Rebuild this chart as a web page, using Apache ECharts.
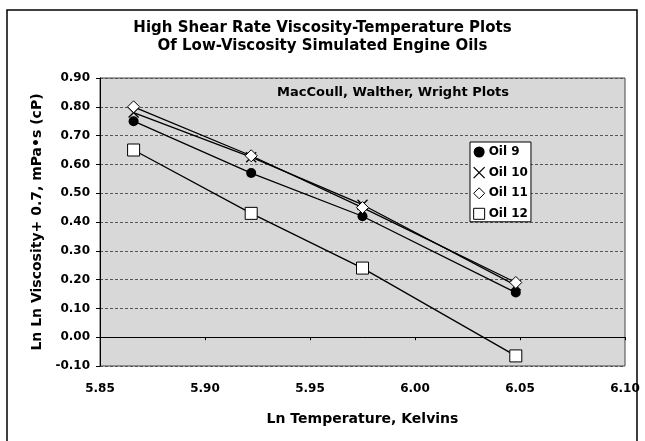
<!DOCTYPE html>
<html>
<head>
<meta charset="utf-8">
<script src="https://cdn.jsdelivr.net/npm/echarts@6/dist/echarts.min.js"></script>
<style>
  html, body { margin: 0; padding: 0; background: #fff; }
  #chart { width: 645px; height: 441px; }
</style>
</head>
<body>
<div id="chart"></div>
<script>
// Ln of temperature in Kelvin (80, 100, 120, 150 C)
const lnTemp = [5.866, 5.922, 5.975, 6.048];
const oil9 = [0.75, 0.57, 0.42, 0.155];
const oil10 = [0.78, 0.625, 0.46, 0.18];
const oil11 = [0.80, 0.63, 0.45, 0.19];
const oil12 = [0.65, 0.43, 0.24, -0.065];
const seriesNames = ['Oil 9', 'Oil 10', 'Oil 11', 'Oil 12'];

const crossPath = 'path://M0,0L10,10M10,0L0,10';

function pairs(ys) {
    return lnTemp.map(function (x, i) { return [x, ys[i]]; });
}

const chart = echarts.init(document.getElementById('chart'));

// wide bold face, closer to the scanned Arial widths
const baseFont = '"DejaVu Sans", sans-serif';

const option = {
    animation: false,
    backgroundColor: '#fff',
    title: {
        text: 'High Shear Rate Viscosity-Temperature Plots\nOf Low-Viscosity Simulated Engine Oils',
        left: 'center',
        top: 14,
        textStyle: {
            fontFamily: baseFont,
            fontWeight: 'bold',
            fontSize: 15,
            lineHeight: 18,
            color: '#000'
        }
    },
    grid: {
        left: 100,
        right: 20,
        top: 78,
        bottom: 75,
        show: true,
        backgroundColor: '#d8d8d8',
        borderColor: '#444',
        borderWidth: 1
    },
    legend: {
        orient: 'vertical',
        left: 470,
        top: 142,
        padding: [4, 3, 2, 3],
        itemGap: 8.5,
        itemWidth: 11,
        itemHeight: 11,
        backgroundColor: '#fff',
        borderColor: '#000',
        borderWidth: 1,
        borderRadius: 0,
        textStyle: {
            fontFamily: baseFont,
            fontWeight: 'bold',
            fontSize: 12,
            color: '#000',
            padding: [0, 0, 0, -1]
        },
        data: [
            { name: seriesNames[0], icon: 'circle', itemStyle: { color: '#000', borderWidth: 0 } },
            { name: seriesNames[1], icon: crossPath, itemStyle: { color: 'transparent', borderColor: '#000', borderWidth: 1.3 } },
            { name: seriesNames[2], icon: 'diamond', itemStyle: { color: '#fff', borderColor: '#000', borderWidth: 1 } },
            { name: seriesNames[3], icon: 'rect', itemStyle: { color: '#fff', borderColor: '#000', borderWidth: 1 } }
        ]
    },
    xAxis: {
        type: 'value',
        min: 5.85,
        max: 6.10,
        interval: 0.05,
        name: 'Ln Temperature, Kelvins',
        nameLocation: 'middle',
        nameGap: 46,
        nameTextStyle: {
            fontFamily: baseFont,
            fontWeight: 'bold',
            fontSize: 14,
            color: '#000'
        },
        axisLine: { show: true, lineStyle: { color: '#000', width: 1 } },
        axisTick: { show: true, inside: false, length: 3, lineStyle: { color: '#000' } },
        axisLabel: {
            margin: 17,
            fontFamily: baseFont,
            fontWeight: 'bold',
            fontSize: 12,
            color: '#000',
            formatter: function (v) { return v.toFixed(2); }
        },
        splitLine: { show: false }
    },
    yAxis: {
        type: 'value',
        min: -0.1,
        max: 0.9,
        interval: 0.1,
        name: 'Ln Ln Viscosity+ 0.7, mPa•s (cP)',
        nameLocation: 'middle',
        nameGap: 56,
        nameTextStyle: {
            fontFamily: baseFont,
            fontWeight: 'bold',
            fontSize: 14,
            color: '#000'
        },
        axisLine: { show: true, lineStyle: { color: '#000', width: 1 } },
        axisTick: { show: true, inside: false, length: 4, lineStyle: { color: '#000' } },
        axisLabel: {
            margin: 10,
            fontFamily: baseFont,
            fontWeight: 'bold',
            fontSize: 12,
            color: '#000',
            formatter: function (v) { return v.toFixed(2); }
        },
        splitLine: {
            show: true,
            lineStyle: { color: '#555', width: 1, type: [3, 2] }
        }
    },
    graphic: [
        {
            type: 'rect',
            shape: { x: 7, y: 10, width: 630, height: 440 },
            style: { fill: 'none', stroke: '#000', lineWidth: 1.5 },
            silent: true
        },
        {
            type: 'text',
            left: 277,
            top: 86,
            style: {
                text: 'MacCoull, Walther, Wright Plots',
                fontFamily: baseFont,
                fontWeight: 'bold',
                fontSize: 13,
                fill: '#000'
            }
        }
    ],
    series: [
        {
            name: seriesNames[0],
            type: 'line',
            data: pairs(oil9),
            symbol: 'circle',
            symbolSize: 10,
            lineStyle: { color: '#000', width: 1.3 },
            itemStyle: { color: '#000' }
        },
        {
            name: seriesNames[1],
            type: 'line',
            data: pairs(oil10),
            symbol: crossPath,
            symbolSize: 10,
            lineStyle: { color: '#000', width: 1.3 },
            itemStyle: { color: 'transparent', borderColor: '#000', borderWidth: 1.3 }
        },
        {
            name: seriesNames[2],
            type: 'line',
            data: pairs(oil11),
            symbol: 'diamond',
            symbolSize: 12,
            lineStyle: { color: '#000', width: 1.3 },
            itemStyle: { color: '#fff', borderColor: '#000', borderWidth: 1 }
        },
        {
            name: seriesNames[3],
            type: 'line',
            data: pairs(oil12),
            symbol: 'rect',
            symbolSize: 12,
            lineStyle: { color: '#000', width: 1.3 },
            itemStyle: { color: '#fff', borderColor: '#000', borderWidth: 1 }
        }
    ]
};

chart.setOption(option);
</script>
</body>
</html>
